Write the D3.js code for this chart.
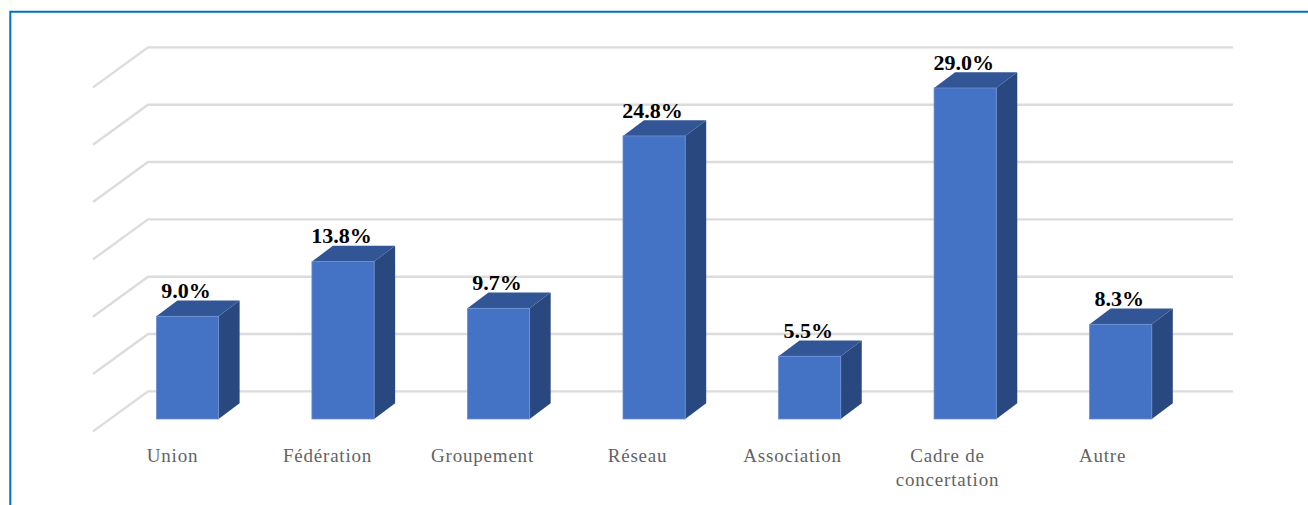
<!DOCTYPE html>
<html lang="fr">
<head>
<meta charset="utf-8">
<title>Types de regroupement</title>
<script src="https://d3js.org/d3.v7.min.js"></script>
<style>
  html, body { margin: 0; padding: 0; background: #fff; overflow: hidden; }
  svg { display: block; }
  .cat text { font-family: "Liberation Serif", serif; font-size: 19px; letter-spacing: 0.8px; fill: #636363; }
  .val { font-family: "Liberation Serif", serif; font-size: 22px; font-weight: bold; fill: #000; text-anchor: middle; }
</style>
</head>
<body>
<script>
var categories = ["Union", "Fédération", "Groupement", "Réseau", "Association", "Cadre de\nconcertation", "Autre"]
var values = [9.0, 13.8, 9.7, 24.8, 5.5, 29.0, 8.3]
var gridTicks = [0, 5, 10, 15, 20, 25, 30]

var w = 1308
var h = 505

// 3D offsets: floor depth of the plot, and depth of a bar
var floorDx = 55, floorDy = 40
var barDx = 21, barDy = 15.7

var svg = d3.select("body").append("svg")
  .attr("width", w)
  .attr("height", h)

// frame, only top and left show in the crop
svg.append("path")
  .attr("d", "M10.3," + h + "V11.7H" + w)
  .attr("fill", "none")
  .attr("stroke", "#0070c0")
  .attr("stroke-width", 2)

var gridY = d3.scaleLinear().domain([0, 30]).range([391.4, 47.4])
var barY = d3.scaleLinear().domain([0, 30]).range([419, 76.6])
var x = d3.scaleBand().domain(categories).range([156.4, 1151.8]).paddingInner(0.6).paddingOuter(0)
var labelX = d3.scalePoint().domain(categories).range([172, 1102])

// walls: slanted side line + back line
svg.selectAll("path.grid")
  .data(gridTicks)
  .enter()
  .append("path")
  .attr("class", "grid")
  .attr("fill", "none")
  .attr("stroke", "#dcdcdc")
  .attr("stroke-width", 2.4)
  .attr("d", function (d) {
    var y = gridY(d)
    return "M" + (148 - floorDx) + "," + (y + floorDy) + "L148," + y + "H1233"
  })

var bars = svg.selectAll("g.bar")
  .data(values)
  .enter()
  .append("g")
  .attr("class", "bar")

function left(i) { return x(categories[i]) }
function right(i) { return x(categories[i]) + x.bandwidth() }

// side face
bars.append("path")
  .attr("fill", "#2a4880")
  .attr("d", function (d, i) {
    var r = right(i), t = barY(d), b = barY(0)
    return "M" + r + "," + t + "L" + (r + barDx) + "," + (t - barDy) + "V" + (b - barDy) + "L" + r + "," + b + "Z"
  })

// top face
bars.append("path")
  .attr("fill", "#325595")
  .attr("d", function (d, i) {
    var l = left(i), r = right(i), t = barY(d)
    return "M" + l + "," + t + "L" + (l + barDx) + "," + (t - barDy) + "H" + (r + barDx) + "L" + r + "," + t + "Z"
  })

// front face
bars.append("rect")
  .attr("fill", "#4472c4")
  .attr("stroke", "#6d90d2")
  .attr("stroke-width", 0.8)
  .attr("x", function (d, i) { return left(i) })
  .attr("y", function (d) { return barY(d) })
  .attr("width", x.bandwidth())
  .attr("height", function (d) { return barY(0) - barY(d) })

bars.append("text")
  .attr("class", "val")
  .attr("x", function (d, i) { return left(i) + x.bandwidth() / 2 - 1.5 })
  .attr("y", function (d) { return barY(d) - 18 })
  .text(function (d) { return d.toFixed(1) + "%" })

// category labels, split on the newline for the two line one
var axis = svg.append("g")
  .attr("class", "cat")
  .attr("transform", "translate(0,452)")
  .call(d3.axisBottom(labelX).tickSize(0).tickPadding(0).tickFormat(""))

axis.select(".domain").remove()
axis.attr("font-family", null).attr("font-size", null)

axis.selectAll(".tick text")
  .attr("y", 0)
  .attr("dy", null)
  .each(function (d) {
    var t = d3.select(this)
    d.split("\n").forEach(function (line, i) {
      t.append("tspan")
        .attr("x", 0)
        .attr("y", 10 + i * 24)
        .text(line)
    })
  })
</script>
</body>
</html>
